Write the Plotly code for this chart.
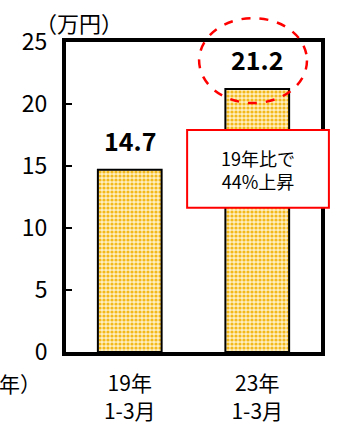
import plotly.graph_objects as go

# Average price (10,000 yen), Jan-Mar of each year
periods = ["19年<br>1-3月", "23年<br>1-3月"]
prices = [14.7, 21.2]
y_ticks = [0, 5, 10, 15, 20, 25]

JP = "Noto Sans CJK JP"
idx = list(range(len(periods)))

fig = go.Figure()
fig.add_trace(go.Bar(
    x=idx,
    y=prices,
    width=0.5,
    marker=dict(
        color="#FBD871",
        line=dict(color="black", width=2),
        pattern=dict(shape=".", fgcolor="#F3B81A", bgcolor="#FFF0C4",
                     size=4, solidity=0.5, fillmode="replace"),
    ),
    hoverinfo="skip",
))

# value labels above each bar
for i, v in zip(idx, prices):
    fig.add_annotation(x=i, y=v, text=f"{v:.1f}", showarrow=False,
                       yanchor="bottom", yshift=10,
                       font=dict(family=JP, size=25, color="black", weight="bold"))

# dashed highlight around the latest value
fig.add_shape(type="circle", xref="paper", yref="paper",
              x0=0.522, x1=0.945, y0=0.803, y1=1.077,
              line=dict(color="#FF0000", width=2.5, dash="dash"),
              layer="above")

# callout box
fig.add_shape(type="rect", xref="paper", yref="paper",
              x0=0.475, x1=1.031, y0=0.465, y1=0.716,
              line=dict(color="#FF0000", width=2), fillcolor="white",
              layer="above")
fig.add_annotation(xref="paper", yref="paper", x=0.753, y=0.59,
                   xanchor="center", yanchor="middle", align="center",
                   text="19年比で<br>44%上昇", showarrow=False,
                   font=dict(family=JP, size=18, color="black"))

# unit labels
fig.add_annotation(xref="paper", yref="paper", x=-0.129, y=1.065,
                   xanchor="left", yanchor="middle", text="（万円）",
                   showarrow=False, font=dict(family=JP, size=22, color="black"))
fig.add_annotation(xref="paper", yref="paper", x=-0.09, y=-0.1,
                   xanchor="right", yanchor="middle", text="（年）",
                   showarrow=False, font=dict(family=JP, size=21, color="black"))

fig.update_xaxes(
    range=[-0.5, 1.5], tickvals=idx, ticktext=periods,
    showline=True, linecolor="black", linewidth=4, mirror=True,
    ticks="", showgrid=False, zeroline=False, ticklabelstandoff=10,
    automargin=False,
    tickfont=dict(family=JP, size=21, color="black"),
)
fig.update_yaxes(
    range=[0, 25], tickvals=y_ticks,
    showline=True, linecolor="black", linewidth=4, mirror=True,
    ticks="inside", ticklen=6, tickwidth=2, tickcolor="black",
    showgrid=False, zeroline=False, ticklabelstandoff=10,
    automargin=False,
    tickfont=dict(family=JP, size=23, color="black"),
)

fig.update_layout(
    width=338, height=424,
    margin=dict(l=66, r=17, t=42, b=72),
    plot_bgcolor="white", paper_bgcolor="white",
    showlegend=False,
)

fig.write_html("out.html")
